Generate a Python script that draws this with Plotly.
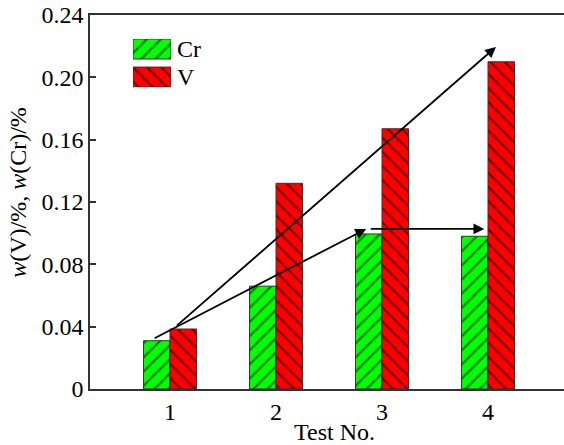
import plotly.graph_objects as go

tests = [1, 2, 3, 4]
cr_values = [0.031, 0.066, 0.0995, 0.098]
v_values = [0.0385, 0.132, 0.167, 0.210]
y_ticks = [0, 0.04, 0.08, 0.12, 0.16, 0.20, 0.24]
y_tick_text = ["0", "0.04", "0.08", "0.12", "0.16", "0.20", "0.24"]
series_names = ["Cr", "V"]

# trend arrows: (x_start, y_start, x_end, y_end) in data units
arrow_steep = (1.05, 0.0398, 4.075, 0.2195)
arrow_shallow = (0.84, 0.0321, 2.85, 0.1027)
arrow_flat = (2.88, 0.1027, 3.965, 0.1027)

FONT = "Liberation Serif"
GREEN = "#00ff00"
RED = "#ff0000"
EDGE = "#333333"
PAT_SIZE = 10
PAT_SOLID = 0.22

fig = go.Figure()
fig.add_trace(go.Bar(
    x=tests, y=cr_values, name=series_names[0],
    marker=dict(color=GREEN, line=dict(color=EDGE, width=1),
                pattern=dict(shape="/", fgcolor="black", bgcolor=GREEN, size=PAT_SIZE, solidity=PAT_SOLID)),
    showlegend=False))
fig.add_trace(go.Bar(
    x=tests, y=v_values, name=series_names[1],
    marker=dict(color=RED, line=dict(color=EDGE, width=1),
                pattern=dict(shape="\\", fgcolor="black", bgcolor=RED, size=PAT_SIZE, solidity=PAT_SOLID)),
    showlegend=False))

# custom legend swatches drawn as bars on a hidden axis pair
fig.add_trace(go.Bar(
    x=[1], y=[38], orientation="h", width=20, base=0, xaxis="x2", yaxis="y2",
    marker=dict(color=GREEN, line=dict(color=EDGE, width=1),
                pattern=dict(shape="/", fgcolor="black", bgcolor=GREEN, size=PAT_SIZE, solidity=PAT_SOLID)),
    showlegend=False, hoverinfo="skip"))
fig.add_trace(go.Bar(
    x=[1], y=[10], orientation="h", width=20, base=0, xaxis="x2", yaxis="y2",
    marker=dict(color=RED, line=dict(color=EDGE, width=1),
                pattern=dict(shape="\\", fgcolor="black", bgcolor=RED, size=PAT_SIZE, solidity=PAT_SOLID)),
    showlegend=False, hoverinfo="skip"))

annotations = []
for (x0, y0, x1, y1) in [arrow_steep, arrow_shallow, arrow_flat]:
    annotations.append(dict(
        x=x1, y=y1, ax=x0, ay=y0, xref="x", yref="y", axref="x", ayref="y",
        showarrow=True, arrowhead=2, arrowsize=1.2, arrowwidth=1.8, arrowcolor="black", text=""))

annotations += [
    dict(text=series_names[0], x=0.179, y=0.909, xref="paper", yref="paper",
         xanchor="left", yanchor="middle", showarrow=False, font=dict(family=FONT, size=24, color="black")),
    dict(text=series_names[1], x=0.179, y=0.834, xref="paper", yref="paper",
         xanchor="left", yanchor="middle", showarrow=False, font=dict(family=FONT, size=24, color="black")),
    dict(text="Test No.", x=0.515, y=-0.115, xref="paper", yref="paper",
         xanchor="center", yanchor="middle", showarrow=False, font=dict(family=FONT, size=24, color="black")),
    dict(text="<i>w</i>(V)/%, <i>w</i>(Cr)/%", x=-0.152, y=0.527, xref="paper", yref="paper",
         xanchor="center", yanchor="middle", textangle=-90, showarrow=False,
         font=dict(family=FONT, size=24, color="black")),
]

fig.update_layout(
    width=564, height=445,
    margin=dict(l=90, r=0, t=15, b=56),
    paper_bgcolor="white", plot_bgcolor="white",
    barmode="group", bargap=0.5, bargroupgap=0,
    font=dict(family=FONT, size=24, color="black"),
    xaxis=dict(range=[0.245, 4.717], tickvals=tests, ticktext=[str(t) for t in tests],
               showgrid=False, zeroline=False, showline=True, linecolor=EDGE, linewidth=1.5,
               mirror=True, ticks="", tickfont=dict(family=FONT, size=24, color="black")),
    yaxis=dict(range=[0, 0.24], tickvals=y_ticks, ticktext=y_tick_text,
               showgrid=False, zeroline=False, showline=True, linecolor=EDGE, linewidth=1.5,
               ticks="inside", ticklen=6, tickcolor=EDGE, tickwidth=1.5,
               tickfont=dict(family=FONT, size=24, color="black")),
    xaxis2=dict(domain=[0.0907, 0.1709], range=[0, 1], anchor="y2", visible=False, fixedrange=True),
    yaxis2=dict(domain=[0.807, 0.936], range=[0, 48], anchor="x2", visible=False, fixedrange=True),
    annotations=annotations,
)

fig.write_html("out.html")
